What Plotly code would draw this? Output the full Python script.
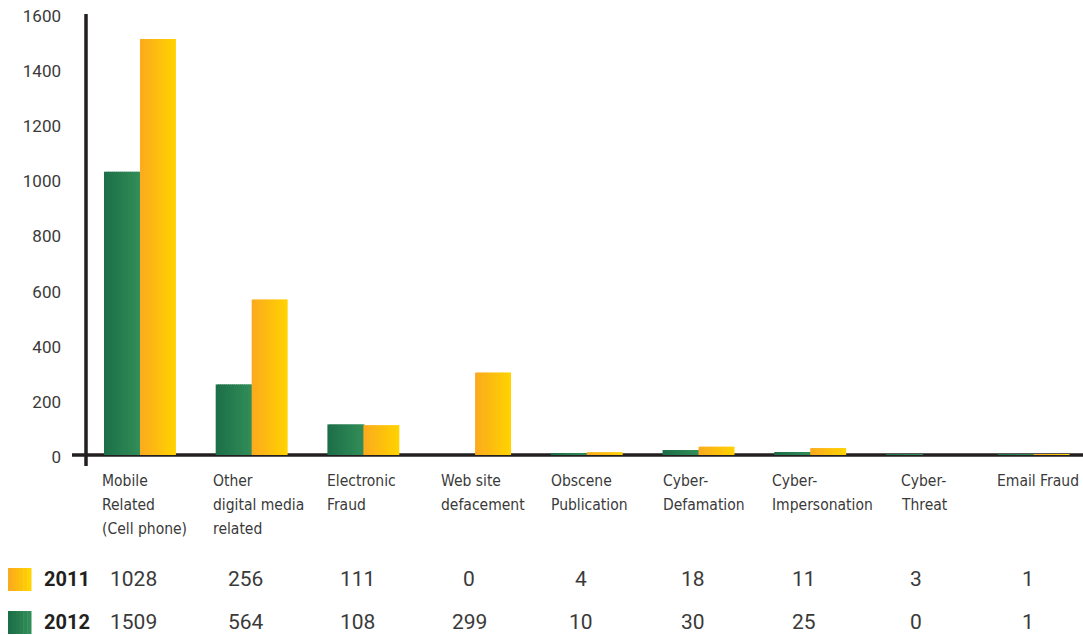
import plotly.graph_objects as go

categories = ["Mobile<br>Related<br>(Cell phone)", "Other<br>digital media<br>related", "Electronic<br>Fraud",
              "Web site<br>defacement", "Obscene<br>Publication", "Cyber-<br>Defamation",
              "Cyber-<br>Impersonation", "Cyber-<br>Threat", "Email Fraud"]
values_2011 = [1028, 256, 111, 0, 4, 18, 11, 3, 1]
values_2012 = [1509, 564, 108, 299, 10, 30, 25, 0, 1]
y_ticks = [0, 200, 400, 600, 800, 1000, 1200, 1400, 1600]

GREEN_L, GREEN_R = (0x1d, 0x6f, 0x48), (0x31, 0x8d, 0x58)
YELLOW_L, YELLOW_R = (0xfb, 0xab, 0x1e), (0xff, 0xd2, 0x00)
DARK = "#231f20"
TEXT = "#3a3a3a"

W, H = 1083, 635
PLOT_L, PLOT_R, PLOT_T, PLOT_B = 86, 1083, 14, 455
ML, MR, MT, MB = PLOT_L, W - PLOT_R, PLOT_T, H - PLOT_B
PW = W - ML - MR
PH = H - MT - MB

idx = list(range(len(categories)))
BAR_W = 0.322
N_SLICES = 18


def mix(a, b, t):
    return "rgb(%d,%d,%d)" % tuple(round(a[k] + (b[k] - a[k]) * t) for k in range(3))


fig = go.Figure()
sw = BAR_W / N_SLICES
for s in range(N_SLICES):
    t = s / (N_SLICES - 1)
    fig.add_trace(go.Bar(x=idx, y=values_2011, width=sw * 1.6, offset=-BAR_W + s * sw,
                         marker=dict(color=mix(GREEN_L, GREEN_R, t), line=dict(width=0)),
                         name="2011"))
for s in range(N_SLICES):
    t = s / (N_SLICES - 1)
    fig.add_trace(go.Bar(x=idx, y=values_2012, width=sw * (1.6 if s < N_SLICES - 1 else 1.0),
                         offset=s * sw,
                         marker=dict(color=mix(YELLOW_L, YELLOW_R, t), line=dict(width=0)),
                         name="2012"))

fig.update_layout(
    width=W, height=H,
    margin=dict(l=ML, r=MR, t=MT, b=MB, autoexpand=False),
    paper_bgcolor="white", plot_bgcolor="rgba(0,0,0,0)",
    barmode="overlay",
    showlegend=False,
    font=dict(family="Roboto", color=TEXT),
    xaxis=dict(range=[-0.483, 8.442], showticklabels=False, showgrid=False,
               zeroline=False, showline=False, ticks=""),
    yaxis=dict(range=[0, 1600], tickvals=y_ticks, showgrid=False, zeroline=False,
               showline=False, ticks="", ticklabelstandoff=24, ticklabelshift=2,
               ticklabeloverflow="allow",
               tickfont=dict(family="Roboto", size=17, color=TEXT)),
)


def px_x(p):
    return (p - PLOT_L) / PW


def px_y(p):
    return (PLOT_B - p) / PH


# axis lines (crossing style)
fig.add_shape(type="line", xref="paper", yref="paper", x0=px_x(72), x1=1.0, y0=0, y1=0,
              line=dict(color=DARK, width=3.5), layer="below")
fig.add_shape(type="line", xref="paper", yref="paper", x0=0, x1=0, y0=px_y(466), y1=1.0,
              line=dict(color=DARK, width=3.5), layer="below")

# category labels, one annotation per line to keep the wide line spacing
label_shift = [-40, -41, -38, -36, -38, -38, -40, -23, -39]
for i, (c, s) in enumerate(zip(categories, label_shift)):
    for j, line in enumerate(c.split("<br>")):
        fig.add_annotation(x=i, xref="x", y=px_y(481 + 24 * j), yref="paper", text=line,
                           showarrow=False, xanchor="left", yanchor="middle", xshift=s,
                           font=dict(family="DejaVu Sans Condensed", size=15.5, color=TEXT))

# data table rows
rows = [("2011", values_2011, 579, YELLOW_L, YELLOW_R),
        ("2012", values_2012, 622, GREEN_L, GREEN_R)]
for year, vals, ypix, c0, c1 in rows:
    n = 6
    for k in range(n):
        fig.add_shape(type="rect", xref="paper", yref="paper",
                      x0=px_x(8 + 23 * k / n), x1=px_x(8 + 23 * (k + 1) / n + 0.5),
                      y0=px_y(ypix + 12), y1=px_y(ypix - 11),
                      fillcolor=mix(c0, c1, k / (n - 1)), line=dict(width=0))
    fig.add_annotation(x=px_x(42), xref="paper", y=px_y(ypix), yref="paper", text="<b>%s</b>" % year,
                       showarrow=False, xanchor="left", yanchor="middle",
                       font=dict(family="Roboto", size=20, color=DARK))
    for i, v in enumerate(vals):
        fig.add_annotation(x=i, xref="x", y=px_y(ypix), yref="paper", text=str(v), showarrow=False,
                           xanchor="center", yanchor="middle", xshift=-6,
                           font=dict(family="Roboto", size=21, color=TEXT))

fig.write_html("out.html", config={"displayModeBar": False},
               post_script="document.body.style.margin='0';document.body.style.overflow='hidden';")
